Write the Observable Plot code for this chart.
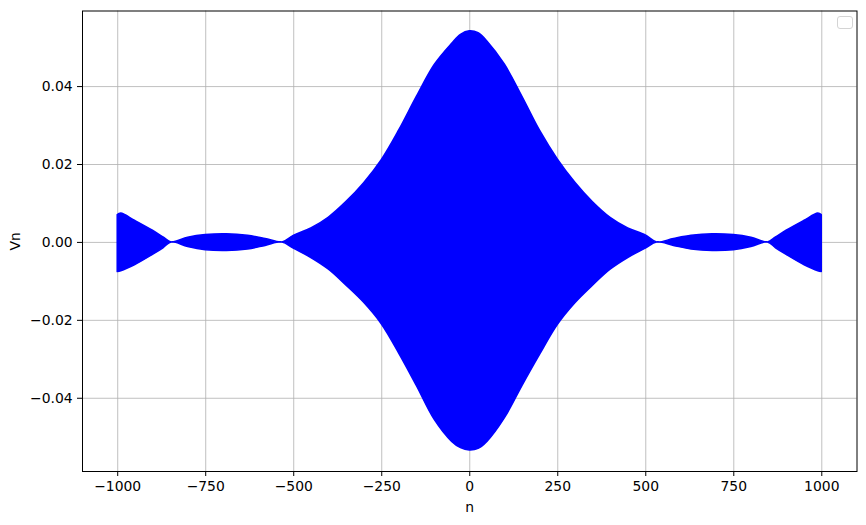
<!DOCTYPE html>
<html><head><meta charset="utf-8">
<script src="https://cdn.jsdelivr.net/npm/d3@7"></script>
<script src="https://cdn.jsdelivr.net/npm/@observablehq/plot@0.6"></script>
<style>
body{margin:0;background:#fff;}
#wrap{position:relative;width:866px;height:525px;}
#legend{position:absolute;left:837px;top:16px;width:14px;height:11px;border:1px solid #d4d4d4;border-radius:3px;background:rgba(255,255,255,0.8);}
</style></head><body>
<div id="wrap"><div id="chart"></div><div id="legend"></div></div>
<script>
// sample index n and the read-off envelope of the rapidly oscillating Vn
const n = [-1000,-990,-950,-900,-870,-847,-800,-750,-690,-630,-580,-532,-500,-450,-400,-350,-300,-250,-200,-150,-100,-50,-25,0,25,50,100,150,200,250,300,350,400,450,500,532,580,630,690,750,800,847,870,900,950,990,1000];
const upper = [0.0070,0.0074,0.0055,0.0030,0.0013,0.0000,0.0012,0.0019,0.0021,0.0017,0.0009,0.0000,0.0017,0.0036,0.0064,0.0104,0.0152,0.0211,0.0288,0.0374,0.0455,0.0510,0.0533,0.0542,0.0537,0.0516,0.0456,0.0373,0.0286,0.0213,0.0153,0.0103,0.0063,0.0036,0.0018,0.0000,0.0009,0.0017,0.0021,0.0019,0.0012,0.0000,0.0013,0.0030,0.0055,0.0074,0.0070];
const lower = [-0.0076,-0.0074,-0.0058,-0.0032,-0.0015,0.0000,-0.0012,-0.0020,-0.0022,-0.0018,-0.0009,0.0000,-0.0016,-0.0040,-0.0070,-0.0111,-0.0155,-0.0210,-0.0286,-0.0369,-0.0455,-0.0512,-0.0528,-0.0534,-0.0530,-0.0512,-0.0451,-0.0368,-0.0288,-0.0212,-0.0156,-0.0111,-0.0070,-0.0040,-0.0016,0.0000,-0.0009,-0.0018,-0.0022,-0.0020,-0.0012,0.0000,-0.0015,-0.0032,-0.0058,-0.0074,-0.0076];
const xTicks = [-1000,-750,-500,-250,0,250,500,750,1000];
const yTicks = [-0.04,-0.02,0.00,0.02,0.04];

const data = n.map((v,i)=>({n:v, hi:upper[i], lo:lower[i]}));
const chart = Plot.plot({
  width:866, height:525,
  marginLeft:82, marginRight:9.5, marginTop:10.5, marginBottom:54,
  style:{fontFamily:"DejaVu Sans", fontSize:"13.9px", background:"white", color:"black"},
  x:{domain:[-1100,1100]},
  y:{domain:[-0.0588,0.0594]},
  marks:[
    Plot.gridX(xTicks,{stroke:"#b0b0b0", strokeOpacity:1, strokeWidth:0.8}),
    Plot.gridY(yTicks,{stroke:"#b0b0b0", strokeOpacity:1, strokeWidth:0.8}),
    Plot.areaY(data,{x:"n", y1:"lo", y2:"hi", fill:"blue", stroke:"blue", strokeWidth:1.5, curve:"catmull-rom"}),
    Plot.frame({stroke:"black", strokeOpacity:1, strokeWidth:1}),
    Plot.axisX(xTicks,{tickSize:5, tickPadding:4.9, tickFormat:d3.format("d"), label:"n", labelAnchor:"center", labelArrow:"none", labelOffset:40}),
    Plot.axisY(yTicks,{tickSize:5, tickPadding:4.9, tickFormat:d3.format(".2f"), label:"Vn", labelAnchor:"center", labelArrow:"none", labelOffset:72})
  ]
});
document.getElementById("chart").appendChild(chart);
</script>
</body></html>
